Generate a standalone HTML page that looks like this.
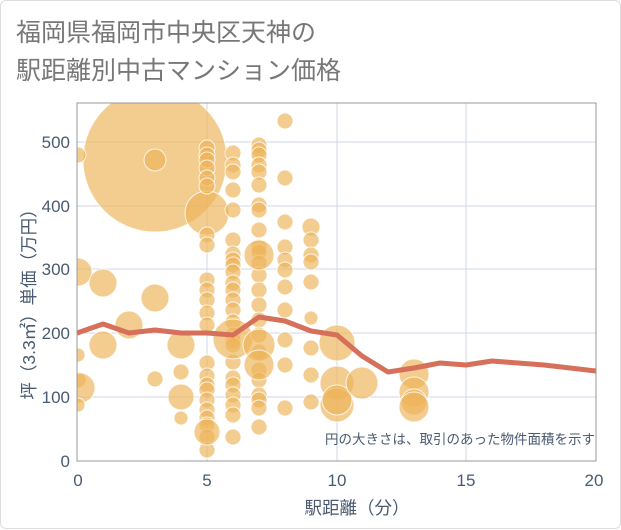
<!DOCTYPE html>
<html><head><meta charset="utf-8"><style>
html,body{margin:0;padding:0;background:#fff;}
body{width:621px;height:530px;overflow:hidden;font-family:"Liberation Sans","Noto Sans CJK JP",sans-serif;}
.card{position:absolute;left:0;top:0;width:619px;height:527px;border:1px solid #ddd;border-radius:6px;}
</style></head><body>
<div class="card"></div>
<svg width="621" height="530" style="position:absolute;left:0;top:0" font-family="Liberation Sans, Noto Sans CJK JP, sans-serif">
<text x="16" y="41" font-size="25" fill="#777">福岡県福岡市中央区天神の</text>
<text x="16" y="79" font-size="25" fill="#777">駅距離別中古マンション価格</text>
<defs><clipPath id="c"><rect x="77" y="103" width="519" height="358"/></clipPath></defs>
<g stroke="#d0dae6" stroke-width="1">
<line x1="207" y1="103" x2="207" y2="461"/><line x1="337" y1="103" x2="337" y2="461"/><line x1="466" y1="103" x2="466" y2="461"/>
<line x1="77" y1="397" x2="596" y2="397"/><line x1="77" y1="333" x2="596" y2="333"/><line x1="77" y1="269" x2="596" y2="269"/><line x1="77" y1="206" x2="596" y2="206"/><line x1="77" y1="142" x2="596" y2="142"/>
</g>
<g id="b" clip-path="url(#c)" fill="rgb(238,180,90)" fill-opacity="0.68" stroke="#fff" stroke-opacity="0.8" stroke-width="1"></g>
<polyline clip-path="url(#c)" fill="none" stroke="#d6705a" stroke-width="5" stroke-linejoin="round" points="77,333 103,324 129,333 155,330 181,333 207,333 233,335 259,317 285,321 311,331 337,335 362,356 388,372 414,368 440,363 466,365 492,361 518,363 544,365 570,368 596,371"/>
<rect x="77" y="103" width="519" height="358" fill="none" stroke="#999" stroke-width="1"/>
<g font-size="17" fill="#4a5a70" text-anchor="end">
<text x="70" y="467">0</text><text x="70" y="403">100</text><text x="70" y="339">200</text><text x="70" y="275">300</text><text x="70" y="212">400</text><text x="70" y="148">500</text>
</g>
<g font-size="17" fill="#4a5a70" text-anchor="middle">
<text x="78" y="486">0</text><text x="207" y="486">5</text><text x="337" y="486">10</text><text x="466" y="486">15</text><text x="594" y="486">20</text>
</g>
<text x="357" y="514" font-size="17.5" fill="#4a5a70" text-anchor="middle">駅距離（分）</text>
<text transform="translate(35,300) rotate(-90)" font-size="17.5" fill="#4a5a70" text-anchor="middle">坪（3.3㎡）単価（万円）</text>
<text x="595" y="444" font-size="13.5" fill="#4a5a70" text-anchor="end">円の大きさは、取引のあった物件面積を示す</text>
</svg>
<script>
var d=[[155,160,72],[155,160,11],[78,155,8],[78,272,14],[78,355,7],[78,380,8],[80,388,15],[78,405,7],
[103,283,14],[103,345,14],[129,325,14],[155,298,14],[155,379,8],
[181,345,14],[181,372,8],[181,397,13],[181,418,7],[207,213,22]];
[148,155,160,168,178,186,235,245,280,290,300,313,325,363,376,385,390,400,410,418,425,437,450].forEach(function(y){d.push([207,y,8])});
d.push([207,432,13]);
[153,165,172,190,210,240,254,260,265,272,283,290,300,310,322,335,340,345,362,378,385,395,405,415,437].forEach(function(y){d.push([233,y,8])});
d.push([233,339,20]);
[145,150,155,165,172,185,205,210,230,247,252,263,275,290,305,320,335,352,370,380,395,400,408,427].forEach(function(y){d.push([259,y,8])});
d.push([259,255,15],[259,345,16],[259,365,15]);
[121,178,222,247,260,270,287,310,340,365,408].forEach(function(y){d.push([285,y,8])});
[[227,9],[240,8],[255,8],[262,8],[282,8],[318,7],[348,8],[375,8],[402,8]].forEach(function(a){d.push([311,a[0],a[1]])});
d.push([337,343,18],[337,383,17],[337,405,17],[337,400,15],[362,383,16],[414,374,15],[414,392,15],[414,402,13],[414,407,15]);
var g=document.getElementById('b'),s='';
d.forEach(function(c){s+='<circle cx="'+c[0]+'" cy="'+c[1]+'" r="'+c[2]+'"/>'});
g.innerHTML=s;
</script>
</body></html>
